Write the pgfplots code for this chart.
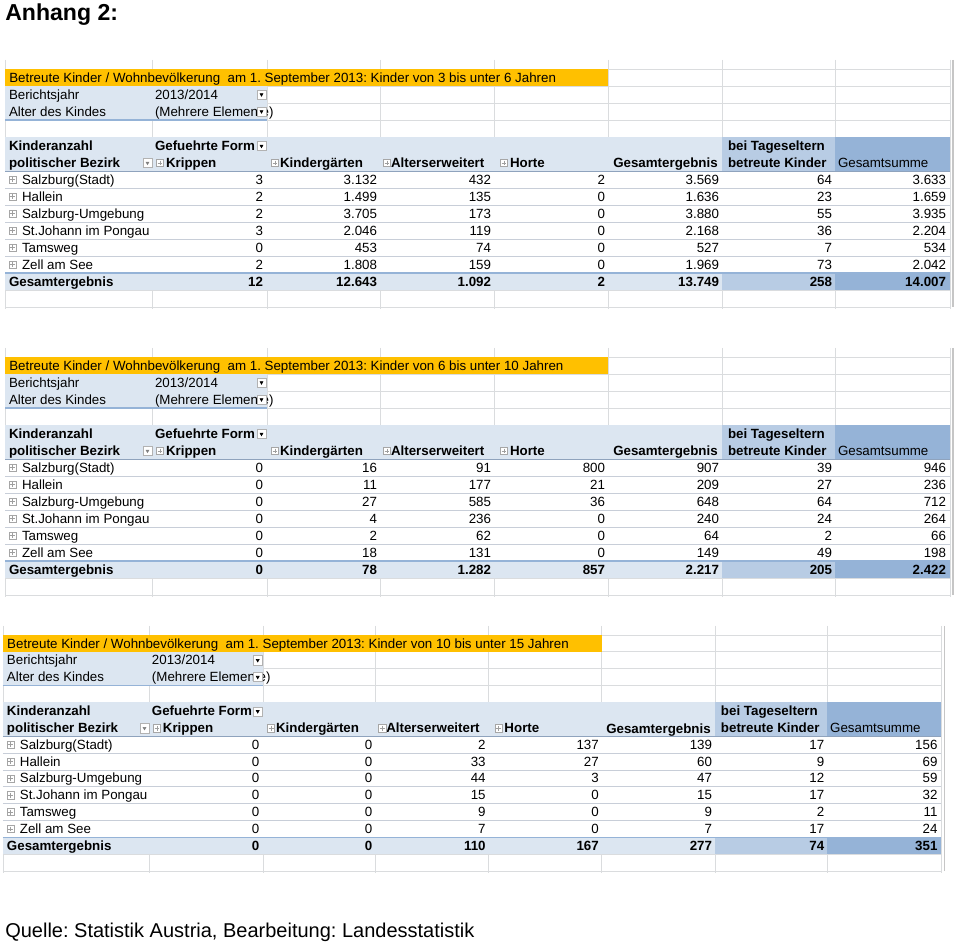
\documentclass[border=0pt]{standalone}
\usepackage{fontspec}
\setmainfont{Liberation Sans}
\usepackage{pgfplots}
\usepackage{pgfplotstable}
\pgfplotsset{compat=1.18}
\usetikzlibrary{plotmarks}
\frenchspacing

\definecolor{xorange}{RGB}{255,192,0}
\definecolor{xlight}{RGB}{220,230,241}
\definecolor{xmid}{RGB}{184,204,228}
\definecolor{xdark}{RGB}{149,179,215}
\definecolor{xgrid}{RGB}{218,220,222}
\definecolor{xrow}{RGB}{200,206,216}

\newcommand\tabfont{\fontsize{10}{12}\selectfont}

% Kinder von 3 bis unter 6 Jahren
\pgfplotstableread[col sep=comma]{
name,kr,kg,ae,ho,ge,ta,gs
Salzburg(Stadt),3,3132,432,2,3569,64,3633
Hallein,2,1499,135,0,1636,23,1659
Salzburg-Umgebung,2,3705,173,0,3880,55,3935
St.Johann im Pongau,3,2046,119,0,2168,36,2204
Tamsweg,0,453,74,0,527,7,534
Zell am See,2,1808,159,0,1969,73,2042
}\tabA
\pgfplotstableread[col sep=comma]{
kr,kg,ae,ho,ge,ta,gs
12,12643,1092,2,13749,258,14007
}\totA

% Kinder von 6 bis unter 10 Jahren
\pgfplotstableread[col sep=comma]{
name,kr,kg,ae,ho,ge,ta,gs
Salzburg(Stadt),0,16,91,800,907,39,946
Hallein,0,11,177,21,209,27,236
Salzburg-Umgebung,0,27,585,36,648,64,712
St.Johann im Pongau,0,4,236,0,240,24,264
Tamsweg,0,2,62,0,64,2,66
Zell am See,0,18,131,0,149,49,198
}\tabB
\pgfplotstableread[col sep=comma]{
kr,kg,ae,ho,ge,ta,gs
0,78,1282,857,2217,205,2422
}\totB

% Kinder von 10 bis unter 15 Jahren
\pgfplotstableread[col sep=comma]{
name,kr,kg,ae,ho,ge,ta,gs
Salzburg(Stadt),0,0,2,137,139,17,156
Hallein,0,0,33,27,60,9,69
Salzburg-Umgebung,0,0,44,3,47,12,59
St.Johann im Pongau,0,0,15,0,15,17,32
Tamsweg,0,0,9,0,9,2,11
Zell am See,0,0,7,0,7,17,24
}\tabC
\pgfplotstableread[col sep=comma]{
kr,kg,ae,ho,ge,ta,gs
0,0,110,167,277,74,351
}\totC

% header texts (block coordinates, baseline)
\pgfplotstableread[col sep=comma]{
u,v,t
4,30.8,Berichtsjahr
150,30.8,2013/2014
4,47.8,Alter des Kindes
150,47.8,(Mehrere Elemente)
833,98.8,Gesamtsumme
}\hdrN
\pgfplotstableread[col sep=comma]{
u,v,t
4,81.8,Kinderanzahl
150,81.8,Gefuehrte Form
723,81.8,bei Tageseltern
4,98.8,politischer Bezirk
161,98.8,Krippen
275,98.8,Kindergärten
386,98.8,Alterserweitert
505,98.8,Horte
723,98.8,betreute Kinder
4,217.8,Gesamtergebnis
}\hdrB
\pgfplotstableread{
u v
256.5 25.5
256.5 42.5
256.5 77
}\filterpos
\pgfplotstableread{
u v
155 94
270 94
382 94
499 94
}\pluspos

\pgfplotsset{
  blockaxis/.style={scale only axis, hide axis, clip=false,
    xmin=0, xmax=945, ymin=-9, ymax=244, y dir=reverse,
    width=708.75pt, height=189.75pt, anchor=north west},
  lbl/.style={draw=none, point meta=explicit symbolic,
    nodes near coords={\raisebox{0pt}[0pt][0pt]{\makebox[0pt][l]{\pgfplotspointmeta}}},
    every node near coord/.append style={inner sep=0pt, outer sep=0pt, font=\tabfont}},
  lblb/.style={lbl, every node near coord/.append style={font=\tabfont\bfseries}},
  num/.style={draw=none, point meta=explicit,
    nodes near coords={\raisebox{0pt}[0pt][0pt]{\makebox[0pt][r]{\pgfmathprintnumber[assume math mode=true,1000 sep={.}]{\pgfplotspointmeta}}}},
    every node near coord/.append style={inner sep=0pt, outer sep=0pt, font=\tabfont}},
  numb/.style={num, every node near coord/.append style={font=\tabfont\bfseries}},
  boxplus/.style={only marks, mark=square*, mark size=2.7pt,
    mark options={fill=white, draw=gray!70, line width=0.45pt}},
  plusin/.style={only marks, mark=+, mark size=1.8pt,
    mark options={draw=gray!75, line width=0.45pt}},
}

% #1 rows, #2 totals, #3 age range
\newcommand\blockbody[3]{%
  \pgfplotsinvokeforeach{0,147,262,375,489,603,717,830,945}{%
    \addplot[xgrid, line width=0.6pt] coordinates {(##1,-9) (##1,240)};}
  \pgfplotsinvokeforeach{0,17,34,51,68,221,238}{%
    \addplot[xgrid, line width=0.6pt] coordinates {(0,##1) (945,##1)};}
  \addplot[gray!45, line width=0.9pt] coordinates {(948,-9) (948,238)};
  \addplot[fill=xorange, draw=none] coordinates {(0,0) (603,0) (603,17) (0,17)} --cycle;
  \addplot[fill=xlight, draw=none] coordinates {(0,17) (262,17) (262,51) (0,51)} --cycle;
  \addplot[xdark, line width=0.8pt] coordinates {(0,51) (262,51)};
  \addplot[fill=xlight, draw=none] coordinates {(0,68) (717,68) (717,102) (0,102)} --cycle;
  \addplot[fill=xmid, draw=none] coordinates {(717,68) (830,68) (830,102) (717,102)} --cycle;
  \addplot[fill=xdark, draw=none] coordinates {(830,68) (945,68) (945,102) (830,102)} --cycle;
  \addplot[fill=white, draw=none] coordinates {(0,102) (945,102) (945,204) (0,204)} --cycle;
  \pgfplotsinvokeforeach{119,136,153,170,187}{%
    \addplot[xrow, line width=0.6pt] coordinates {(0,##1) (945,##1)};}
  \addplot[xdark!70!gray, line width=0.7pt] coordinates {(0,102) (945,102)};
  \addplot[fill=xlight, draw=none] coordinates {(0,204) (717,204) (717,221) (0,221)} --cycle;
  \addplot[fill=xmid, draw=none] coordinates {(717,204) (830,204) (830,221) (717,221)} --cycle;
  \addplot[fill=xdark, draw=none] coordinates {(830,204) (945,204) (945,221) (830,221)} --cycle;
  \addplot[xdark, line width=1pt] coordinates {(0,204) (945,204)};
  % texts
  \node[anchor=base west, inner sep=0pt, font=\tabfont] at (axis cs:4,13.6)
    {Betreute Kinder / Wohnbevölkerung\ \ am 1. September 2013: Kinder von #3 Jahren};
  \addplot[lbl] table[x=u, y=v, meta=t] {\hdrN};
  \addplot[lblb] table[x=u, y=v, meta=t] {\hdrB};
  \node[anchor=base east, inner sep=0pt, font=\tabfont\bfseries] at (axis cs:713,98.8) {Gesamtergebnis};
  \addplot[lbl] table[x expr=17, y expr=115.8+17*\coordindex, meta=name] {#1};
  \addplot[num] table[x expr=258, y expr=115.8+17*\coordindex, meta=kr] {#1};
  \addplot[num] table[x expr=372, y expr=115.8+17*\coordindex, meta=kg] {#1};
  \addplot[num] table[x expr=486, y expr=115.8+17*\coordindex, meta=ae] {#1};
  \addplot[num] table[x expr=600, y expr=115.8+17*\coordindex, meta=ho] {#1};
  \addplot[num] table[x expr=714, y expr=115.8+17*\coordindex, meta=ge] {#1};
  \addplot[num] table[x expr=827, y expr=115.8+17*\coordindex, meta=ta] {#1};
  \addplot[num] table[x expr=941, y expr=115.8+17*\coordindex, meta=gs] {#1};
  \addplot[numb] table[x expr=258, y expr=217.8, meta=kr] {#2};
  \addplot[numb] table[x expr=372, y expr=217.8, meta=kg] {#2};
  \addplot[numb] table[x expr=486, y expr=217.8, meta=ae] {#2};
  \addplot[numb] table[x expr=600, y expr=217.8, meta=ho] {#2};
  \addplot[numb] table[x expr=714, y expr=217.8, meta=ge] {#2};
  \addplot[numb] table[x expr=827, y expr=217.8, meta=ta] {#2};
  \addplot[numb] table[x expr=941, y expr=217.8, meta=gs] {#2};
  % pivot icons
  \addplot[only marks, mark=square*, mark size=3.4pt,
    mark options={fill=white, draw=gray!60, line width=0.4pt}] table[x=u, y=v] {\filterpos};
  \addplot[only marks, mark=triangle*, mark size=1.3pt,
    mark options={rotate=180, fill=black, draw=black}] table[x=u, y=v] {\filterpos};
  \addplot[only marks, mark=square*, mark size=3.4pt,
    mark options={fill=white, draw=gray!60, line width=0.4pt}] coordinates {(142.5,94)};
  \addplot[only marks, mark=triangle*, mark size=1.2pt,
    mark options={rotate=180, fill=gray, draw=gray}] coordinates {(142.5,94)};
  \addplot[boxplus] table[x=u, y=v] {\pluspos};
  \addplot[plusin] table[x=u, y=v] {\pluspos};
  \addplot[boxplus] table[x expr=7.5, y expr=110.5+17*\coordindex] {#1};
  \addplot[plusin] table[x expr=7.5, y expr=110.5+17*\coordindex] {#1};
}

\begin{document}
\begin{tikzpicture}
\begin{axis}[width=720pt, height=708pt, scale only axis, hide axis, clip=false,
  xmin=0, xmax=960, ymin=0, ymax=944, y dir=reverse]
\addplot[fill=white, draw=none] coordinates {(0,0) (960,0) (960,944) (0,944)} --cycle;
\node[anchor=base west, inner sep=0pt, font=\fontsize{17.3}{20}\selectfont\bfseries]
  at (axis cs:5,20.5) {Anhang 2:};
\node[anchor=base west, inner sep=0pt, font=\fontsize{15}{18}\selectfont]
  at (axis cs:5,937) {Quelle: Statistik Austria, Bearbeitung: Landesstatistik};
\coordinate (b1) at (axis cs:5,60);
\coordinate (b2) at (axis cs:5,348);
\coordinate (b3) at (axis cs:3,626);
\end{axis}

\begin{axis}[blockaxis, at={(b1)}]
\blockbody{\tabA}{\totA}{3 bis unter 6}
\end{axis}

\begin{axis}[blockaxis, at={(b2)}]
\blockbody{\tabB}{\totB}{6 bis unter 10}
\end{axis}

\begin{axis}[blockaxis, at={(b3)}, width=703.8pt, height=188.4pt]
\blockbody{\tabC}{\totC}{10 bis unter 15}
\end{axis}
\end{tikzpicture}
\end{document}
